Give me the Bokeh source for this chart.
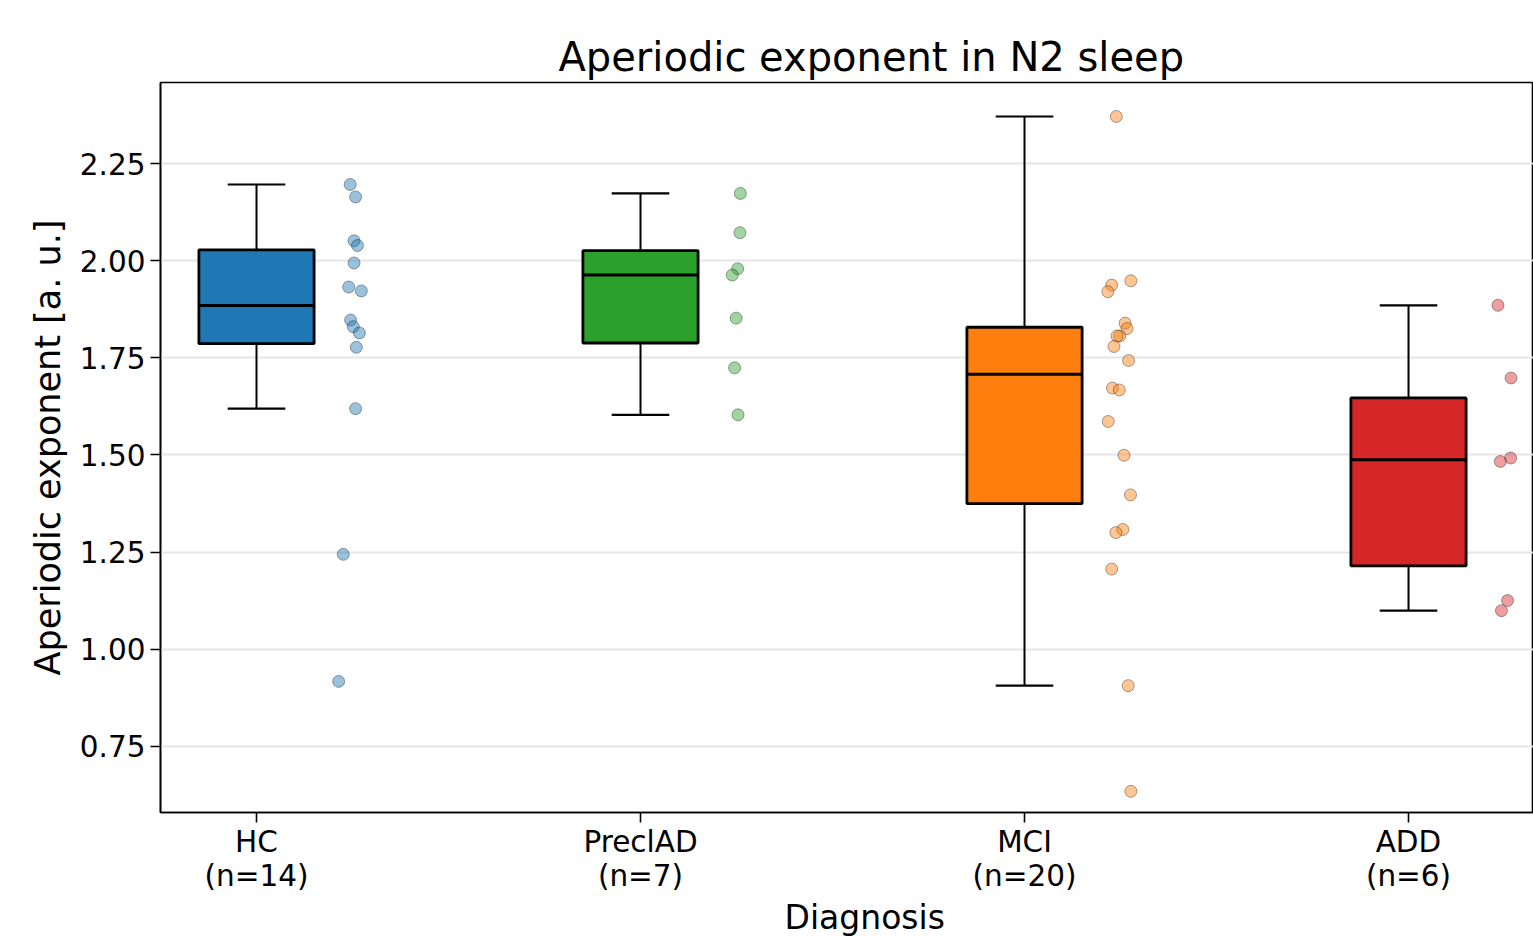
import numpy as np
from bokeh.plotting import figure
from bokeh.models import Range1d, FixedTicker, Title, NumeralTickFormatter
from bokeh.embed import file_html
from bokeh.resources import INLINE

# ---------------- data ----------------
categories = ["HC", "PreclAD", "MCI", "ADD"]
tick_labels = ["HC\n(n=14)", "PreclAD\n(n=7)", "MCI\n(n=20)", "ADD\n(n=6)"]
colors = ["#1f77b4", "#2ca02c", "#ff7f0e", "#d62728"]

hc_values = [2.196, 2.164, 2.051, 2.039, 1.994, 1.932, 1.922, 1.847, 1.830, 1.814,
             1.777, 1.619, 1.244, 0.917]
hc_jitter = [0.244, 0.258, 0.254, 0.263, 0.254, 0.240, 0.273, 0.245, 0.252, 0.268,
             0.260, 0.258, 0.226, 0.214]

precl_values = [2.173, 2.072, 1.979, 1.963, 1.852, 1.724, 1.603]
precl_jitter = [0.260, 0.259, 0.253, 0.239, 0.249, 0.245, 0.254]

mci_values = [2.371, 1.948, 1.937, 1.920, 1.839, 1.825, 1.806, 1.806, 1.779, 1.743,
              1.672, 1.667, 1.586, 1.499, 1.397, 1.308, 1.300, 1.206, 0.906, 0.634]
mci_jitter = [0.239, 0.277, 0.227, 0.217, 0.262, 0.267, 0.248, 0.241, 0.233, 0.271,
              0.229, 0.247, 0.218, 0.259, 0.276, 0.256, 0.238, 0.227, 0.270, 0.277]

add_values = [1.885, 1.698, 1.492, 1.483, 1.125, 1.099]
add_jitter = [0.233, 0.267, 0.266, 0.239, 0.258, 0.242]

y_ticks = [0.75, 1.00, 1.25, 1.50, 1.75, 2.00, 2.25]

groups = [hc_values, precl_values, mci_values, add_values]
jitters = [hc_jitter, precl_jitter, mci_jitter, add_jitter]

FONT = "DejaVu Sans"

p = figure(width=1533, height=936, output_backend="svg", toolbar_location=None,
           x_range=Range1d(-0.25, 3.3255), y_range=Range1d(0.5795, 2.4585),
           min_border_left=160, min_border_right=0, min_border_top=82,
           min_border_bottom=112)

p.background_fill_color = "white"
p.border_fill_color = "white"
p.outline_line_color = "black"
p.outline_line_width = 1.6

# title
p.title.text = "Aperiodic exponent in N2 sleep"
p.title.text_font = FONT
p.title.text_font_size = "40px"
p.title.text_font_style = "normal"
p.title.text_color = "black"
p.title.align = "left"
p.title.offset = 398
p.title.standoff = 6

# grid
p.xgrid.visible = False
p.ygrid.ticker = FixedTicker(ticks=y_ticks)
p.ygrid.grid_line_color = "#e6e6e6"
p.ygrid.grid_line_width = 2

# axes
for ax in (p.xaxis[0], p.yaxis[0]):
    ax.axis_line_width = 1.6
    ax.major_tick_line_width = 1.6
    ax.major_tick_out = 10
    ax.major_tick_in = 0
    ax.minor_tick_line_color = None
    ax.major_label_text_font = FONT
    ax.major_label_text_font_size = "29.5px"
    ax.major_label_text_color = "black"
    ax.axis_line_color = "black"
    ax.major_tick_line_color = "black"

p.yaxis.ticker = FixedTicker(ticks=y_ticks)
p.yaxis.formatter = NumeralTickFormatter(format="0.00")
p.yaxis.major_label_standoff = 5
p.yaxis.axis_label = "Aperiodic exponent [a. u.]"
p.yaxis.axis_label_text_font = FONT
p.yaxis.axis_label_text_font_size = "35px"
p.yaxis.axis_label_text_font_style = "normal"
p.yaxis.axis_label_text_color = "black"
p.yaxis.axis_label_standoff = 9

p.xaxis.ticker = FixedTicker(ticks=list(range(len(categories))))
p.xaxis.major_label_overrides = {i: t for i, t in enumerate(tick_labels)}
p.xaxis.major_label_standoff = 2
p.xaxis.major_label_text_line_height = 1.0

# x axis label: placed below the axis, offset like in the reference
p.add_layout(Title(text="Diagnosis", align="left", offset=624, standoff=0,
                   text_font=FONT, text_font_size="33px", text_font_style="normal",
                   text_color="black"), "below")

# boxes
half_box = 0.15
half_cap = 0.075
for i, (vals, col) in enumerate(zip(groups, colors)):
    arr = np.array(vals)
    q1, med, q3 = np.percentile(arr, [25, 50, 75])
    iqr = q3 - q1
    lo = arr[arr >= q1 - 1.5 * iqr].min()
    hi = arr[arr <= q3 + 1.5 * iqr].max()
    # whiskers
    p.segment(x0=[i, i], y0=[q3, q1], x1=[i, i], y1=[hi, lo],
              line_color="black", line_width=2)
    p.segment(x0=[i - half_cap, i - half_cap], y0=[hi, lo],
              x1=[i + half_cap, i + half_cap], y1=[hi, lo],
              line_color="black", line_width=2.2)
    p.quad(left=[i - half_box], right=[i + half_box], bottom=[q1], top=[q3],
           fill_color=col, line_color="black", line_width=2.8)
    p.segment(x0=[i - half_box], y0=[med], x1=[i + half_box], y1=[med],
              line_color="black", line_width=3)

# jittered points
for i, (vals, jit, col) in enumerate(zip(groups, jitters, colors)):
    xs = [i + j for j in jit]
    p.scatter(x=xs, y=vals, size=12, fill_color=col, fill_alpha=0.45,
              line_color="black", line_alpha=0.35, line_width=1)

open("out.html", "w").write(file_html(p, INLINE))
